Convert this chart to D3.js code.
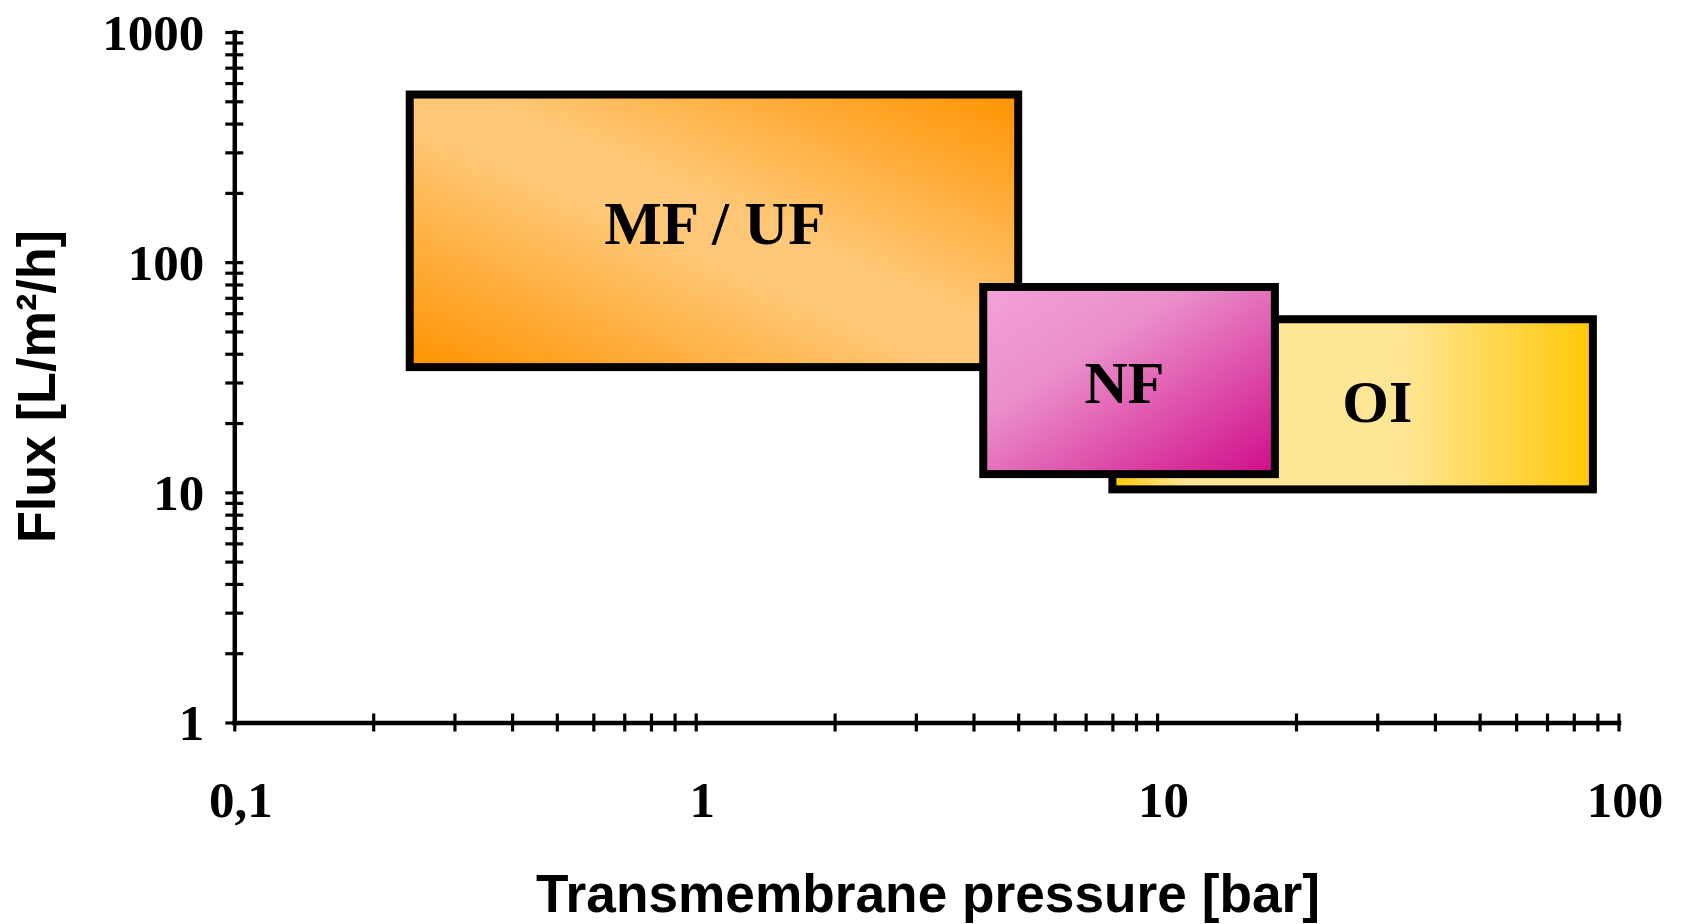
<!DOCTYPE html>
<html><head><meta charset="utf-8">
<script src="https://cdn.jsdelivr.net/npm/d3@7"></script>
<style>html,body{margin:0;padding:0;background:#fff;} svg{display:block}</style>
</head><body>
<svg id="chart" width="1683" height="924"></svg>
<script>
// ---- data ----
const regionNames   = ["MF / UF", "OI", "NF"];     // drawing order (NF on top)
const pressureLow   = [0.24, 8, 4.2];
const pressureHigh  = [5, 88, 18];
const fluxLow       = [35, 10.3, 12];
const fluxHigh      = [535, 56.5, 78];
const labelPressure = [1.1, 30, 8.5];
const labelFlux     = [146, 24.7, 29.8];
const xMajorTicks   = [0.1, 1, 10, 100];
const xTickLabels   = ["0,1", "1", "10", "100"];
const yMajorTicks   = [1, 10, 100, 1000];
const yTickLabels   = ["1", "10", "100", "1000"];
const xTitle = "Transmembrane pressure [bar]";
const yTitle = "Flux [L/m²/h]";

// ---- setup ----
const svg = d3.select("#chart");
const x = d3.scaleLog().domain([0.1, 100]).range([234.3, 1618.5]);
const y = d3.scaleLog().domain([1, 1000]).range([722.5, 32]);
const serif = "'Liberation Serif', 'Times New Roman', serif";
const sans = "'Liberation Sans', Arial, sans-serif";

const defs = svg.append("defs");
const gradSpecs = [
  {x1:0, y1:1, x2:1, y2:0, stops:[[0,"#FF9300"],[0.45,"#FFC878"],[0.55,"#FFC878"],[1,"#FF9300"]]},
  {x1:0, y1:0, x2:1, y2:0, stops:[[0,"#FFC800"],[0.15,"#FFE696"],[0.6,"#FFE696"],[1,"#FFC805"]]},
  {x1:0, y1:0, x2:1, y2:1, stops:[[0,"#F2A2D7"],[0.35,"#EA8FCA"],[1,"#D00C88"]]}
];
gradSpecs.forEach((g, i) => {
  const lg = defs.append("linearGradient").attr("id", "grad" + i)
    .attr("x1", g.x1).attr("y1", g.y1).attr("x2", g.x2).attr("y2", g.y2);
  g.stops.forEach(s => lg.append("stop").attr("offset", s[0]).attr("stop-color", s[1]));
});

function majorIndex(arr, d) {
  return arr.findIndex(m => Math.abs(Math.log10(m) - Math.log10(d)) < 1e-6);
}

// ---- axes ----
const gx = svg.append("g").attr("transform", `translate(0,${y(1)})`)
  .call(d3.axisBottom(x).tickValues(x.ticks()).tickSizeOuter(0)
    .tickFormat(d => { const i = majorIndex(xMajorTicks, d); return i >= 0 ? xTickLabels[i] : ""; }));
gx.select(".domain").attr("stroke", "#000").attr("stroke-width", 4.5).attr("stroke-linecap", "square");
gx.selectAll(".tick line").attr("y1", -9).attr("y2", 9).attr("stroke", "#000").attr("stroke-width", 3.2);
gx.selectAll(".tick text").attr("y", 94).attr("dy", null).attr("dx", 6)
  .attr("font-family", serif).attr("font-weight", "bold").attr("font-size", 51).attr("fill", "#000");

const gy = svg.append("g").attr("transform", `translate(${x(0.1)},0)`)
  .call(d3.axisLeft(y).tickValues(y.ticks()).tickSizeOuter(0)
    .tickFormat(d => { const i = majorIndex(yMajorTicks, d); return i >= 0 ? yTickLabels[i] : ""; }));
gy.select(".domain").attr("stroke", "#000").attr("stroke-width", 4.5).attr("stroke-linecap", "square");
gy.selectAll(".tick line").attr("x1", -9).attr("x2", 9).attr("stroke", "#000").attr("stroke-width", 3.2);
gy.selectAll(".tick text").attr("x", -30).attr("dy", "0.34em").attr("text-anchor", "end")
  .attr("font-family", serif).attr("font-weight", "bold").attr("font-size", 51).attr("fill", "#000");

// ---- regions ----
const idx = d3.range(regionNames.length);
svg.append("g").selectAll("rect").data(idx).join("rect")
  .attr("x", i => x(pressureLow[i]))
  .attr("y", i => y(fluxHigh[i]))
  .attr("width", i => x(pressureHigh[i]) - x(pressureLow[i]))
  .attr("height", i => y(fluxLow[i]) - y(fluxHigh[i]))
  .attr("fill", i => `url(#grad${i})`)
  .attr("stroke", "#000").attr("stroke-width", 8).attr("stroke-linejoin", "miter");

// labels drawn per region right after? keep NF label above OI rect: draw labels after all rects
svg.append("g").selectAll("text").data(idx).join("text")
  .attr("x", i => x(labelPressure[i]))
  .attr("y", i => y(labelFlux[i]))
  .attr("dy", "0.33em")
  .attr("text-anchor", "middle")
  .attr("font-family", serif).attr("font-weight", "bold")
  .attr("font-size", i => i === 0 ? 61 : 60)
  .attr("fill", "#000")
  .text(i => regionNames[i]);

// ---- titles ----
svg.append("text").attr("x", 928).attr("y", 911.7).attr("text-anchor", "middle")
  .attr("font-family", sans).attr("font-weight", "bold").attr("font-size", 54)
  .attr("textLength", 784).attr("lengthAdjust", "spacingAndGlyphs")
  .text(xTitle);
svg.append("text").attr("transform", "translate(55,386.5) rotate(-90)").attr("text-anchor", "middle")
  .attr("font-family", sans).attr("font-weight", "bold").attr("font-size", 54)
  .attr("textLength", 313).attr("lengthAdjust", "spacingAndGlyphs")
  .text(yTitle);
</script>
</body></html>
